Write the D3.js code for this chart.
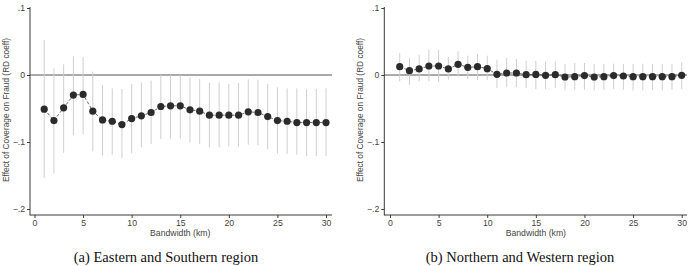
<!DOCTYPE html>
<html><head><meta charset="utf-8">
<script src="https://cdn.jsdelivr.net/npm/d3@7"></script>
<style>body{margin:0;background:#fff}svg{display:block}</style>
</head><body>
<svg id="c" width="693" height="266"></svg>
<script>
const bandwidth = d3.range(1, 31);
const xTicks = [0, 5, 10, 15, 20, 25, 30];
const yTicks = [0.1, 0, -0.1, -0.2];
const yTickLabels = [".1", "0", "\u2212.1", "\u2212.2"];

const coefA = [-0.051,-0.068,-0.049,-0.030,-0.029,-0.054,-0.067,-0.069,-0.074,-0.065,-0.061,-0.056,-0.047,-0.046,-0.046,-0.052,-0.054,-0.060,-0.060,-0.060,-0.060,-0.055,-0.056,-0.062,-0.068,-0.069,-0.071,-0.071,-0.071,-0.071];
const hiA = [0.052,0.010,0.016,0.028,0.027,0.005,-0.015,-0.020,-0.021,-0.0135,-0.011,-0.0085,0.000,0.000,0.000,-0.0035,-0.006,-0.0115,-0.011,-0.0134,-0.012,-0.0065,-0.007,-0.0134,-0.0184,-0.020,-0.020,-0.021,-0.021,-0.020];
const loA = [-0.154,-0.147,-0.116,-0.090,-0.088,-0.114,-0.120,-0.119,-0.124,-0.117,-0.108,-0.103,-0.0955,-0.0955,-0.095,-0.1005,-0.103,-0.108,-0.108,-0.107,-0.107,-0.104,-0.105,-0.111,-0.117,-0.118,-0.119,-0.121,-0.121,-0.121];

const coefB = [0.0124,0.0065,0.009,0.0134,0.0134,0.009,0.016,0.0114,0.0124,0.0095,0.001,0.003,0.003,0.0005,0.0008,-0.0005,0.0005,-0.003,-0.0025,-0.0008,-0.003,-0.0025,-0.0008,-0.0015,-0.0025,-0.0025,-0.0025,-0.0025,-0.0025,-0.0005];
const hiB = [0.0328,0.0254,0.0303,0.0378,0.0378,0.0269,0.0352,0.0288,0.0313,0.0288,0.0228,0.0254,0.0239,0.0213,0.0213,0.0203,0.0203,0.0164,0.0179,0.0179,0.0164,0.0164,0.0169,0.0164,0.0164,0.0169,0.0164,0.0164,0.0164,0.0188];
const loB = [-0.0096,-0.0145,-0.0096,-0.0096,-0.0104,-0.007,-0.002,-0.006,-0.007,-0.007,-0.0194,-0.0179,-0.0179,-0.0194,-0.0209,-0.0209,-0.0194,-0.023,-0.022,-0.022,-0.023,-0.022,-0.0209,-0.022,-0.023,-0.023,-0.022,-0.023,-0.022,-0.0209];

const captions = ["(a) Eastern and Southern region", "(b) Northern and Western region"];
const yTitle = "Effect of Coverage on Fraud (RD coeff)";
const xTitle = "Bandwidth (km)";

const svg = d3.select("#c");
const panels = [
  {coef: coefA, hi: hiA, lo: loA, axisX: 30, x0: 34.5, x1: 326, axisEnd: 332, cap: captions[0], capX: 166},
  {coef: coefB, hi: hiB, lo: loB, axisX: 384.3, x0: 390, x1: 681.7, axisEnd: 687, cap: captions[1], capX: 520}
];
const y = d3.scaleLinear().domain([-0.2, 0.1]).range([209, 8]);
const axisBottomY = 215;
const axisColor = "#3a3a3a";
const textColor = "#444";
const sans = "'Liberation Sans', Arial, sans-serif";

panels.forEach(p => {
  const x = d3.scaleLinear().domain([0, 30]).range([p.x0, p.x1]);
  const g = svg.append("g");
  g.append("line").attr("x1", p.axisX).attr("x2", p.axisEnd)
    .attr("y1", y(0)).attr("y2", y(0)).attr("stroke", "#555").attr("stroke-width", 1);
  g.selectAll("line.ci").data(bandwidth).join("line").attr("class", "ci")
    .attr("x1", d => x(d)).attr("x2", d => x(d))
    .attr("y1", (d, i) => y(p.hi[i])).attr("y2", (d, i) => y(p.lo[i]))
    .attr("stroke", "#cfcfcf").attr("stroke-width", 1);
  const line = d3.line().x((d, i) => x(bandwidth[i])).y(d => y(d));
  g.append("path").attr("d", line(p.coef)).attr("fill", "none")
    .attr("stroke", "#444").attr("stroke-width", 0.8).attr("stroke-dasharray", "3,2");
  g.selectAll("circle").data(p.coef).join("circle")
    .attr("cx", (d, i) => x(bandwidth[i])).attr("cy", d => y(d)).attr("r", 3.6)
    .attr("fill", "#2b2b2b");
  const ya = d3.axisLeft(y).tickValues(yTicks).tickSize(3).tickPadding(2)
    .tickFormat((d, i) => yTickLabels[i]);
  const yg = g.append("g").attr("transform", `translate(${p.axisX},0)`).call(ya);
  yg.select(".domain").remove();
  yg.append("line").attr("x1", 0).attr("x2", 0).attr("y1", 7).attr("y2", axisBottomY + 0.5)
    .attr("stroke", axisColor);
  const xa = d3.axisBottom(x).tickValues(xTicks).tickSize(3).tickPadding(2);
  const xg = g.append("g").attr("transform", `translate(0,${axisBottomY})`).call(xa);
  xg.select(".domain").remove();
  xg.append("line").attr("x1", p.axisX).attr("x2", p.axisEnd).attr("y1", 0).attr("y2", 0)
    .attr("stroke", axisColor);
  [yg, xg].forEach(a => {
    a.selectAll(".tick line").attr("stroke", axisColor);
    a.selectAll(".tick text").attr("fill", textColor)
      .style("font-family", sans).style("font-size", "8.7px");
  });
  g.append("text").attr("x", (p.x0 + p.x1) / 2).attr("y", 236).attr("text-anchor", "middle")
    .attr("fill", textColor).style("font-family", sans)
    .style("font-size", "8.7px").text(xTitle);
  g.append("text").attr("transform", `translate(${p.axisX - 21.5},110) rotate(-90)`)
    .attr("text-anchor", "middle").attr("fill", textColor)
    .style("font-family", sans).style("font-size", "8.3px")
    .text(yTitle);
  g.append("text").attr("x", p.capX).attr("y", 262).attr("text-anchor", "middle")
    .attr("fill", "#111").style("font-family", "'Liberation Serif', 'Times New Roman', serif")
    .style("font-size", "14.5px").text(p.cap);
});
</script>
</body></html>
